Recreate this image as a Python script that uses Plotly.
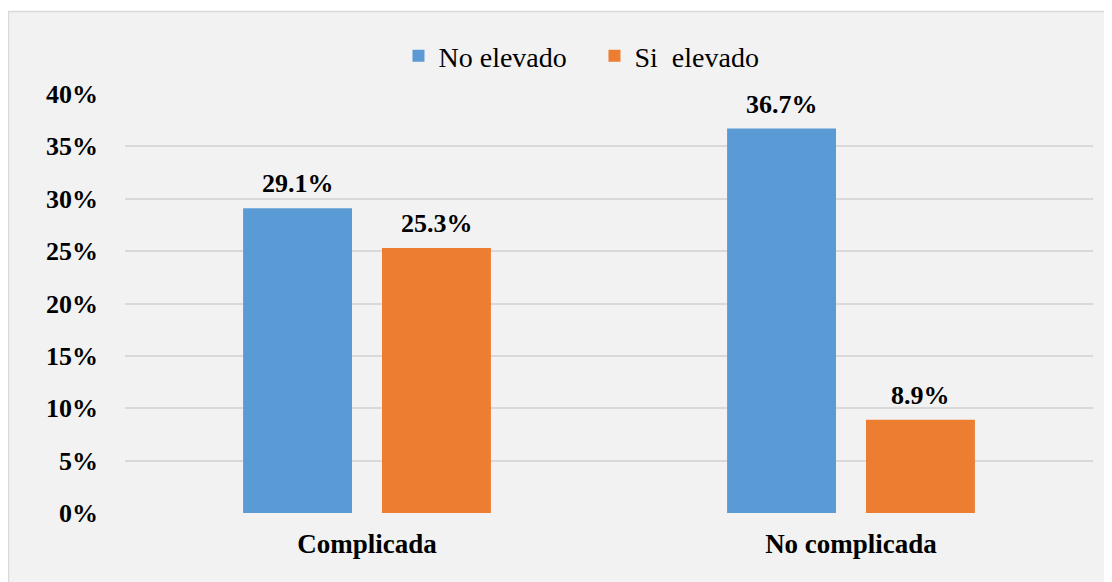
import plotly.graph_objects as go

categories = ["Complicada", "No complicada"]
series_names = ["No elevado", "Si\u00a0 elevado"]
no_elevado = [29.1, 36.7]
si_elevado = [25.3, 8.9]
colors = ["#5B9BD5", "#ED7D31"]
y_ticks = [0, 5, 10, 15, 20, 25, 30, 35, 40]
y_tick_labels = [f"{v}%" for v in y_ticks]

FONT = "Liberation Serif"

W, H = 1112, 582
L, R, T, B = 117, 1112 - 1085, 86, 582 - 505
pw, ph = W - L - R, H - T - B
slot_off = 69.5  # px offset of each bar from category centre

fig = go.Figure()
for i, (name, vals, col) in enumerate(zip(series_names, [no_elevado, si_elevado], colors)):
    fig.add_trace(go.Bar(
        x=categories, y=vals, name=name,
        marker=dict(color=col, line=dict(width=0)),
    ))
    for c, v in zip(categories, vals):
        fig.add_annotation(
            x=c, y=v, xref="x", yref="y", text=f"<b>{v:.1f}%</b>",
            showarrow=False, xanchor="center", yanchor="bottom",
            xshift=(-slot_off if i == 0 else slot_off), yshift=8,
            font=dict(family=FONT, size=26, color="black"),
        )

fig.add_shape(type="rect", xref="paper", yref="paper",
              x0=(0.5 - L) / pw, x1=1.2, y0=-0.5, y1=(H - B - 3.5) / ph,
              fillcolor="#F2F2F2", line=dict(color="#D9D9D9", width=1.5), layer="below")

fig.update_layout(
    width=W, height=H,
    margin=dict(l=L, r=R, t=T, b=B, autoexpand=False),
    paper_bgcolor="white", plot_bgcolor="rgba(0,0,0,0)",
    barmode="group", bargap=0.426, bargroupgap=0.216,
    legend=dict(orientation="h", x=0.485, xanchor="center", y=1.0907, yanchor="middle",
                font=dict(family=FONT, size=28, color="black"),
                bgcolor="rgba(0,0,0,0)", traceorder="normal", entrywidth=151),
    font=dict(family=FONT, color="black"),
)
fig.update_xaxes(showgrid=False, showline=False, zeroline=False,
                 tickfont=dict(family=FONT, size=27, color="black", weight="bold"),
                 ticklabelstandoff=12)
fig.update_yaxes(range=[0, 40], tickmode="array", tickvals=y_ticks, ticktext=y_tick_labels,
                 showgrid=True, gridcolor="#D9D9D9", gridwidth=1.5,
                 zeroline=False, showline=False,
                 tickfont=dict(family=FONT, size=26, color="black", weight="bold"),
                 ticklabelstandoff=26)

fig.write_html("out.html")
